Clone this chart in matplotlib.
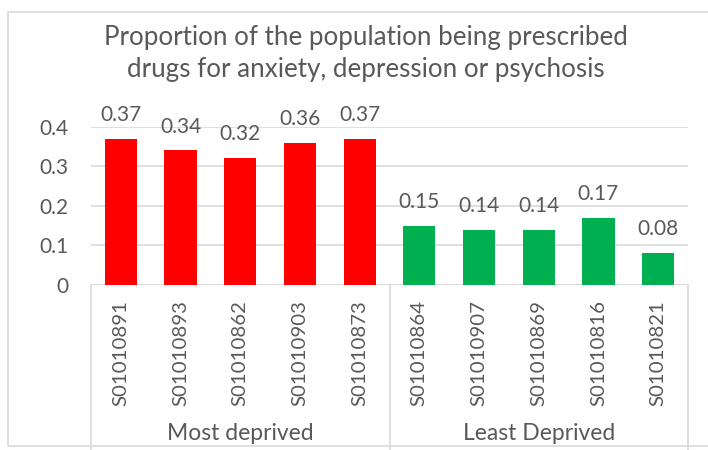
import matplotlib
matplotlib.use("Agg")
import matplotlib.pyplot as plt
import matplotlib.transforms as mtransforms
from matplotlib.patches import Rectangle
import numpy as np

# data
areas = ["S01010891", "S01010893", "S01010862", "S01010903", "S01010873",
         "S01010864", "S01010907", "S01010869", "S01010816", "S01010821"]
proportions = [0.37, 0.34, 0.32, 0.36, 0.37, 0.15, 0.14, 0.14, 0.17, 0.08]
groups = ["Most deprived", "Least Deprived"]
group_sizes = [5, 5]
group_colors = ["#FF0000", "#00B050"]

plt.rcParams['font.family'] = ['Lato', 'DejaVu Sans']
txt = "#595959"
line_col = "#D9D9D9"

W, H = 708, 450
fig = plt.figure(figsize=(W / 100, H / 100), dpi=100)
ax = fig.add_axes([91 / W, 1 - 285 / H, (688 - 91) / W, (285 - 126.7) / H])

colors = []
for c, n in zip(group_colors, group_sizes):
    colors += [c] * n

x = np.arange(len(areas))
bars = ax.bar(x, proportions, width=0.54, color=colors, zorder=3)

for xi, v in zip(x, proportions):
    ax.annotate(f"{v:.2f}", (xi, v), xytext=(0, 10), textcoords="offset points",
                ha="center", va="bottom", fontsize=15, color=txt, zorder=4)

ax.set_xlim(-0.5, len(areas) - 0.5)
ax.set_ylim(0, 0.4)
ax.set_yticks([0, 0.1, 0.2, 0.3, 0.4])
ax.set_yticklabels(["0", "0.1", "0.2", "0.3", "0.4"])
ax.yaxis.grid(True, color=line_col, linewidth=1.2, zorder=0)
ax.set_axisbelow(True)
for s in ax.spines.values():
    s.set_visible(False)
ax.tick_params(axis="y", length=0, pad=16, labelsize=15, labelcolor=txt)

ax.set_xticks(x)
ax.set_xticklabels(areas, rotation=90, va="top", ha="center")
ax.tick_params(axis="x", length=0, pad=11, labelsize=14.7, labelcolor=txt)

# category axis line and group separators
ax.axhline(0, color=line_col, linewidth=1.2, zorder=2)
trans = mtransforms.blended_transform_factory(ax.transData, ax.transAxes)
edges = np.concatenate([[0], np.cumsum(group_sizes)]) - 0.5
for e in edges:
    ax.plot([e, e], [0, -1.2], color=line_col, linewidth=1.2,
            transform=trans, clip_on=False)
to_px = 1 / (285 - 126.7)
for g, a, b in zip(groups, edges[:-1], edges[1:]):
    ax.text((a + b) / 2, -(444 - 285) * to_px, g, transform=trans,
            ha="center", va="bottom", fontsize=16.5, color=txt)

# chart border
fig.patches.append(Rectangle((8 / W, 1 - 446 / H), 1.2, (446 - 12) / H,
                             transform=fig.transFigure, fill=False,
                             edgecolor=line_col, linewidth=1.2, zorder=10))

fig.text(366 / W, 1 - 53.5 / H,
         "Proportion of the population being prescribed\ndrugs for anxiety, depression or psychosis",
         ha="center", va="center", fontsize=18.7, color=txt, linespacing=1.4)

fig.savefig("out.png", dpi=100)
